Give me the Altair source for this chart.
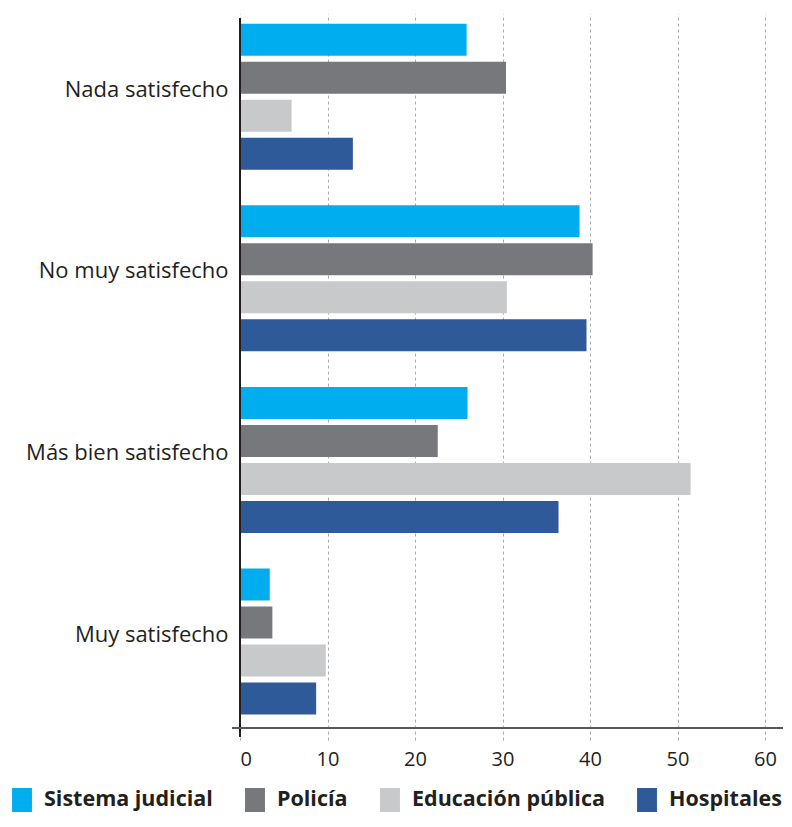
import altair as alt
import pandas as pd

categories = ["Nada satisfecho", "No muy satisfecho", "Más bien satisfecho", "Muy satisfecho"]
series = ["Sistema judicial", "Policía", "Educación pública", "Hospitales"]
sistema = [25.9, 38.8, 26.0, 3.4]
policia = [30.4, 40.3, 22.6, 3.7]
educacion = [5.9, 30.5, 51.5, 9.8]
hospitales = [12.9, 39.6, 36.4, 8.7]
colors = ["#00AEEF", "#77787B", "#C8C9CB", "#2E5A99"]
x_ticks = [0, 10, 20, 30, 40, 50, 60]

values = [sistema, policia, educacion, hospitales]
rows = []
for s, vals in zip(series, values):
    for c, v in zip(categories, vals):
        rows.append({"categoria": c, "serie": s, "valor": v})
df = pd.DataFrame(rows)

W = 542.5
H = 710
TXT = "#231F20"
FONT = "Open Sans"

bars = alt.Chart(df).mark_bar(strokeWidth=0).encode(
    x=alt.X(
        "valor:Q",
        scale=alt.Scale(domain=[0, 62], nice=False),
        axis=alt.Axis(
            values=x_ticks, title=None, domain=False, ticks=False,
            labelFont=FONT, labelFontSize=20, labelColor=TXT, labelPadding=21,
            grid=True, gridDash=[3, 3], gridColor="#A7A9AC", gridWidth=1,
        ),
    ),
    y=alt.Y(
        "categoria:N", sort=categories,
        scale=alt.Scale(range=[-12.1, 714.4], paddingInner=0, paddingOuter=0),
        axis=alt.Axis(
            title=None, domain=False, ticks=False, grid=False,
            labelFont=FONT, labelFontSize=22, labelColor=TXT, labelLimit=0,
            labelPadding=12, labelOffset=-7,
        ),
    ),
    yOffset=alt.YOffset(
        "serie:N", sort=series,
        scale=alt.Scale(range=[17.8, 163.8], paddingInner=0.158, paddingOuter=0),
    ),
    color=alt.Color(
        "serie:N", sort=series,
        scale=alt.Scale(domain=series, range=colors),
        legend=alt.Legend(
            title=None, orient="none", legendX=-230, legendY=770,
            direction="horizontal", columns=4, padding=0,
            symbolType="M-0.83,-1L0.83,-1L0.83,1L-0.83,1Z", symbolSize=576,
            symbolStrokeWidth=0, symbolOpacity=1,
            labelFont=FONT, labelFontSize=21.5, labelFontWeight="bold",
            labelColor=TXT, labelOffset=10, columnPadding=30, labelLimit=0,
        ),
    ),
)

yaxis_line = alt.Chart(df).mark_rule(color=TXT, strokeWidth=1.5).encode(
    x=alt.value(0), y=alt.value(0), y2=alt.value(H + 9)
)
xaxis_line = alt.Chart(df).mark_rule(color="#58595B", strokeWidth=1.5).encode(
    x=alt.value(-8), x2=alt.value(W), y=alt.value(H)
)

chart = alt.layer(bars, yaxis_line, xaxis_line).properties(
    width=W, height=H,
    autosize=alt.AutoSizeParams(type="none"),
    padding={"left": 232, "top": 10, "right": 1.5, "bottom": 85},
).configure_view(stroke=None)

chart.save("out.html", embed_options={"renderer": "svg", "actions": False})
